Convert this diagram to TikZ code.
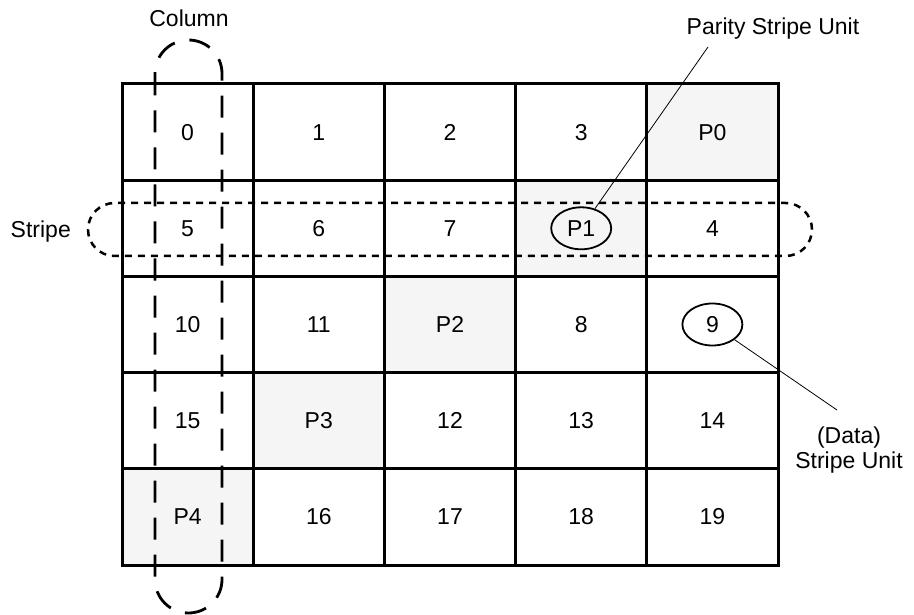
\documentclass[tikz,border=0pt]{standalone}
\usepackage{fontspec}
\setmainfont{Liberation Sans}
\usetikzlibrary{shapes.geometric}
\definecolor{parityfill}{RGB}{245,245,245}
\begin{document}
\begin{tikzpicture}[x=1pt,y=-1pt,
  lbl/.style={font=\fontsize{23}{25.5}\selectfont, inner sep=0pt},
  cellbox/.style={draw=black, line width=3pt, minimum width=131.2pt, minimum height=96.2pt,
    inner sep=0pt, font=\fontsize{23}{25.5}\selectfont},
  paritycell/.style={cellbox, fill=parityfill},
  unitring/.style={ellipse, draw=black, line width=1.8pt, minimum width=60pt, minimum height=42pt, inner sep=0pt},
  leader/.style={draw=black, line width=0.8pt},
  coldash/.style={draw=black, line width=2.8pt, dash pattern=on 22pt off 15pt, rounded corners=33.5pt},
  stripedash/.style={draw=black, line width=2.5pt, dash pattern=on 7pt off 6pt, rounded corners=26.5pt}
]
\useasboundingbox (0,0) rectangle (914,615);

% cells
\foreach \t [count=\k from 0] in {0,1,2,3,P0,5,6,7,P1,4,10,11,P2,8,9,15,P3,12,13,14,P4,16,17,18,19}{
  \pgfmathtruncatemacro{\r}{int(\k/5)}
  \pgfmathtruncatemacro{\c}{mod(\k,5)}
  \pgfmathtruncatemacro{\isp}{(\c==4-\r) ? 1 : 0}
  \ifnum\isp=1
    \node[paritycell] (c-\r-\c) at ({122+65.6+131.2*\c},{84+48.1+96.2*\r}) {\t};
  \else
    \node[cellbox] (c-\r-\c) at ({122+65.6+131.2*\c},{84+48.1+96.2*\r}) {\t};
  \fi
}

% column and stripe outlines
\draw[coldash] (155,40) rectangle (222,613);
\draw[stripedash] (88,203) rectangle (812,256);

% highlighted units
\node[unitring] (e1) at (c-1-3) {};
\node[unitring] (e2) at (c-2-4) {};

% labels
\node[lbl, anchor=base] (colLabel) at (189,27) {Column};
\node[lbl, anchor=base east] (stripeLabel) at (71,238) {Stripe};
\node[lbl, anchor=base] (parityLabel) at (773,35) {Parity Stripe Unit};
\node[lbl, align=center] (dataLabel) at (849,450) {(Data)\\Stripe Unit};

% leaders
\coordinate (ptip) at (708,47);
\coordinate (dtip) at (837,410);
\draw[leader] (e1) -- (ptip);
\draw[leader] (e2) -- (dtip);
\end{tikzpicture}
\end{document}
